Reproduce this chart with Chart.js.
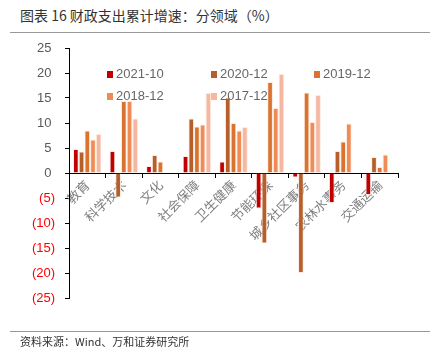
<!DOCTYPE html>
<html>
<head>
<meta charset="utf-8">
<script src="https://cdn.jsdelivr.net/npm/chart.js@4/dist/chart.umd.min.js"></script>
<style>
  body { margin: 0; background: #fff; }
  #wrap { position: relative; width: 439px; height: 364px; overflow: hidden; }
  #chart { position: absolute; left: 0; top: 0; }
  .title { position: absolute; left: 20px; top: 5px; font: 14px "Noto Sans CJK SC", sans-serif; color: #333; }
  .rule { position: absolute; left: 10px; width: 420px; height: 0; border-top: 1.5px solid #999; }
  .source { position: absolute; left: 20px; top: 333px; font: 11px "Noto Sans CJK SC", sans-serif; color: #333; }
  .legend { position: absolute; font: 13px "Liberation Sans", Arial, sans-serif; color: #666; }
  .legend span.box { position: absolute; width: 6px; height: 7px; top: 5px; left: 0; }
  .legend span.txt { position: absolute; left: 9px; top: 0; white-space: nowrap; }
</style>
</head>
<body>
<div id="wrap">
  <div class="title">图表 16 财政支出累计增速：分领域（%）</div>
  <div class="rule" style="top:32px"></div>
  <canvas id="chart" width="439" height="364"></canvas>
  <div id="legend"></div>
  <div class="rule" style="top:331px"></div>
  <div class="source">资料来源：Wind、万和证券研究所</div>
</div>
<script>
const categories = ['教育', '科学技术', '文化', '社会保障', '卫生健康', '节能环保', '城乡社区事务', '农林水事务', '交通运输'];
const seriesNames = ['2021-10', '2020-12', '2019-12', '2018-12', '2017-12'];
const s2021_10 = [4.8, 4.4, 1.4, 3.4, 2.3, -7.1, -0.9, -6.0, -4.4];
const s2020_12 = [4.3, -4.9, 3.6, 10.9, 15.1, -14.1, -20.0, 4.4, 3.2];
const s2019_12 = [8.5, 14.4, 2.3, 9.3, 10.0, 18.2, 16.1, 6.3, 1.2];
const s2018_12 = [6.7, 14.4, null, 9.7, 8.5, 13.0, 10.2, 9.9, 3.7];
const s2017_12 = [7.8, 10.9, null, 16.0, 9.2, 19.8, 15.6, null, null];
const colors = ['#c00000', '#b5602a', '#d8742f', '#ef8b55', '#f5b7a0'];
const yTicks = [-25, -20, -15, -10, -5, 0, 5, 10, 15, 20, 25];

const seriesValues = [s2021_10, s2020_12, s2019_12, s2018_12, s2017_12];
const datasets = seriesNames.map((name, i) => ({
  label: name,
  data: seriesValues[i],
  backgroundColor: colors[i],
  borderColor: 'rgba(255,232,222,0.9)',
  borderWidth: 1,
  categoryPercentage: 0.78,
  barPercentage: 1
}));

// legend laid out as in the picture: 3 per row
const legendPos = [[107, 66], [211, 66], [314, 66], [107, 88], [211, 88]];
const legendEl = document.getElementById('legend');
seriesNames.forEach((name, i) => {
  const d = document.createElement('div');
  d.className = 'legend';
  d.style.left = legendPos[i][0] + 'px';
  d.style.top = legendPos[i][1] + 'px';
  d.innerHTML = '<span class="box" style="background:' + colors[i] + '"></span><span class="txt">' + name + '</span>';
  legendEl.appendChild(d);
});

new Chart(document.getElementById('chart'), {
  type: 'bar',
  data: { labels: categories, datasets },
  options: {
    responsive: false,
    animation: false,
    layout: { padding: { left: 0, top: 48, right: 41, bottom: 66 } },
    plugins: { legend: { display: false }, tooltip: { enabled: false } },
    scales: {
      x: {
        position: { y: 0 },
        grid: { drawOnChartArea: false, offset: true, tickLength: 4, color: '#000' },
        border: { color: '#000', width: 1 },
        ticks: {
          minRotation: 45, maxRotation: 45, padding: 0, autoSkip: false,
          color: '#808080',
          font: { family: '"Noto Sans CJK SC"', size: 13 }
        }
      },
      y: {
        min: -25, max: 25,
        afterBuildTicks: (s) => { s.ticks = yTicks.map(v => ({ value: v })); },
        afterFit: (s) => { s.width = 69; },
        grid: { drawOnChartArea: false, tickLength: 4, color: '#000' },
        border: { color: '#000', width: 1 },
        ticks: {
          padding: 10,
          font: { family: '"Liberation Sans", Arial, sans-serif', size: 13 },
          color: (c) => c.tick && c.tick.value < 0 ? '#ff0000' : '#595959',
          callback: (v) => v < 0 ? '(' + (-v) + ')' : v + ' '
        }
      }
    }
  }
});
</script>
</body>
</html>
